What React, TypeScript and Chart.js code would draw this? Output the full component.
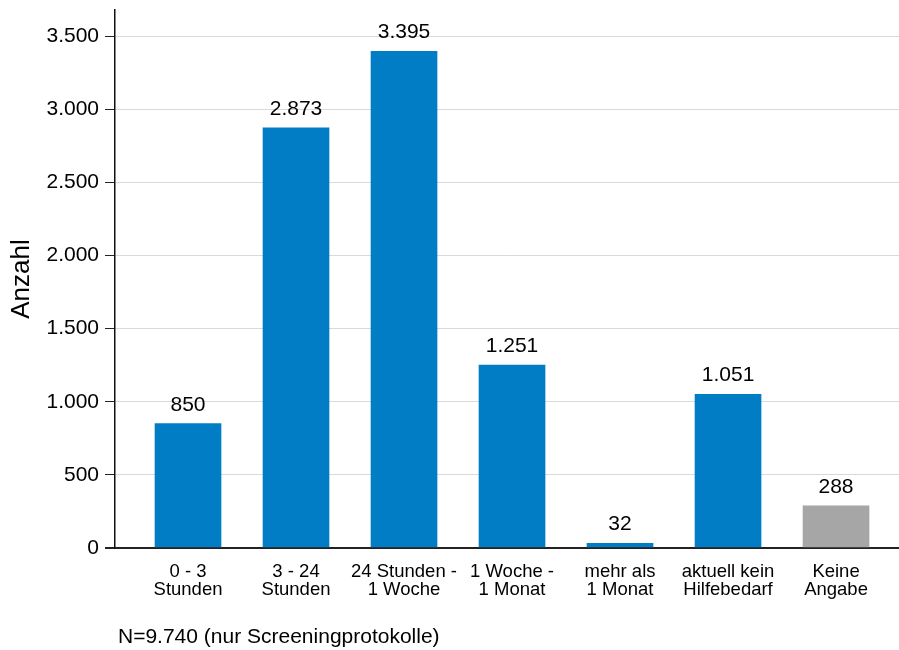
import React, { useEffect, useRef } from "react";
import { Chart, registerables } from "chart.js";

Chart.register(...registerables);

const categories: string[][] = [
  ["0 - 3", "Stunden"],
  ["3 - 24", "Stunden"],
  ["24 Stunden -", "1 Woche"],
  ["1 Woche -", "1 Monat"],
  ["mehr als", "1 Monat"],
  ["aktuell kein", "Hilfebedarf"],
  ["Keine", "Angabe"],
];
const values: number[] = [850, 2873, 3395, 1251, 32, 1051, 288];
const barColors: string[] = ["#007DC5", "#007DC5", "#007DC5", "#007DC5", "#007DC5", "#007DC5", "#A6A6A6"];
const yTicks: number[] = [0, 500, 1000, 1500, 2000, 2500, 3000, 3500];
const yTitle = "Anzahl";
const note = "N=9.740 (nur Screeningprotokolle)";

const FONT = "'Liberation Sans', Arial, sans-serif";

function fmt(n: number): string {
  const s = Math.round(n).toString();
  return s.replace(/\B(?=(\d{3})+(?!\d))/g, ".");
}

const labelPlugin = {
  id: "valueLabels",
  afterDatasetsDraw(chart: any) {
    const ctx = chart.ctx;
    const meta = chart.getDatasetMeta(0);
    ctx.save();
    ctx.font = `21px ${FONT}`;
    ctx.fillStyle = "#000";
    ctx.textAlign = "center";
    ctx.textBaseline = "alphabetic";
    meta.data.forEach((bar: any, i: number) => {
      ctx.fillText(fmt(values[i]), bar.x, bar.y - 13);
    });
    ctx.restore();
  },
};

const notePlugin = {
  id: "noteText",
  afterDraw(chart: any) {
    const ctx = chart.ctx;
    ctx.save();
    ctx.font = `21px ${FONT}`;
    ctx.fillStyle = "#000";
    ctx.textAlign = "left";
    ctx.textBaseline = "alphabetic";
    ctx.fillText(note, 118, 643);
    ctx.restore();
  },
};

export default function App() {
  const ref = useRef<HTMLCanvasElement | null>(null);
  useEffect(() => {
    if (!ref.current) return;
    const chart = new Chart(ref.current, {
      type: "bar",
      data: {
        datasets: [
          {
            data: values.map((v, i) => ({ x: i, y: v })),
            backgroundColor: barColors,
            barThickness: 66,
          },
        ],
      },
      options: {
        animation: false,
        responsive: false,
        maintainAspectRatio: false,
        layout: { padding: { top: 10, left: 0, right: 0, bottom: 0 } },
        plugins: { legend: { display: false }, tooltip: { enabled: false } },
        scales: {
          x: {
            type: "linear",
            offset: false,
            min: -0.676,
            max: 6.583,
            afterBuildTicks: (scale: any) => {
              scale.ticks = categories.map((_, i) => ({ value: i }));
            },
            afterFit: (scale: any) => {
              scale.height = 102;
              scale.paddingLeft = 0;
              scale.paddingRight = 0;
            },
            ticks: {
              autoSkip: false,
              maxRotation: 0,
              minRotation: 0,
              padding: 7,
              color: "#000",
              font: { family: FONT, size: 18.5, lineHeight: "18px" },
              callback: (v: any) => categories[Math.round(Number(v))] ?? "",
            },
            grid: { display: false },
            border: { display: true, color: "#222", width: 2 },
          },
          y: {
            min: 0,
            max: 3678,
            afterBuildTicks: (scale: any) => {
              scale.ticks = yTicks.map((v) => ({ value: v }));
            },
            afterFit: (scale: any) => {
              scale.width = 115;
              scale.paddingTop = 0;
              scale.paddingBottom = 0;
            },
            ticks: {
              padding: 6,
              color: "#000",
              font: { family: FONT, size: 21 },
              callback: (v: any) => fmt(Number(v)),
            },
            grid: {
              color: (c: any) => (c.tick && c.tick.value === 0 ? "#222" : "#D9D9D9"),
              lineWidth: (c: any) => (c.tick && c.tick.value === 0 ? 2 : 1),
              tickColor: "#222",
              tickLength: 10,
            },
            border: { display: true, color: "#111", width: 1.5 },
            title: {
              display: true,
              text: yTitle,
              color: "#000",
              font: { family: FONT, size: 26 },
              padding: { top: 6, bottom: 0 },
            },
          },
        },
      },
      plugins: [labelPlugin, notePlugin],
    } as any);
    return () => chart.destroy();
  }, []);
  return (
    <div style={{ position: "fixed", left: 0, top: 0, width: 899, height: 650, background: "#fff" }}>
      <canvas ref={ref} width={899} height={650} style={{ display: "block" }} />
    </div>
  );
}
